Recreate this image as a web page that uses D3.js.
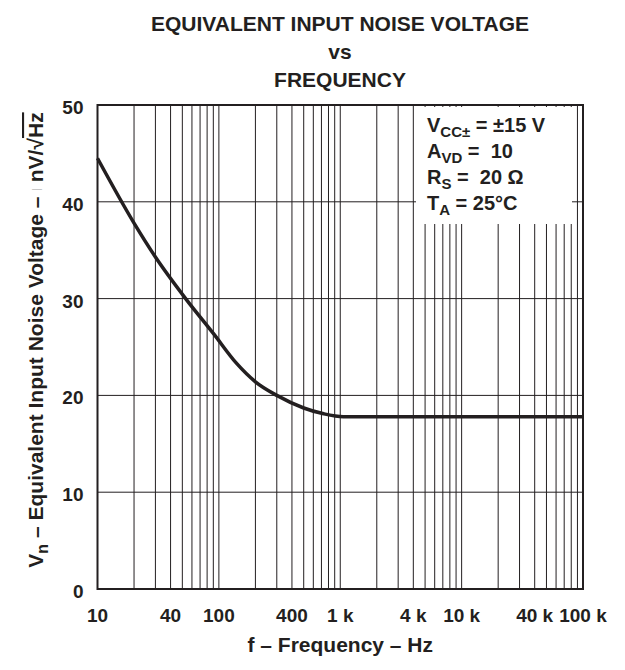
<!DOCTYPE html>
<html>
<head>
<meta charset="utf-8">
<script src="https://cdn.jsdelivr.net/npm/d3@7"></script>
<style>
  body { margin: 0; background: #fff; }
  svg text { font-family: "Liberation Sans", Arial, sans-serif; font-weight: bold; fill: #231f20; }
</style>
</head>
<body>
<svg id="chart" width="625" height="670"></svg>
<script>
// curve
const freq = [10, 20, 30, 54, 90, 140, 200, 300, 500, 730, 1060, 2000, 10000, 100000];
const noise = [44.5, 37.8, 34.3, 29.9, 26.4, 23.3, 21.4, 20.0, 18.7, 18.1, 17.8, 17.8, 17.8, 17.8];

const xTicks = [10, 40, 100, 400, 1000, 4000, 10000, 40000, 100000];
const xTickLabels = ["10", "40", "100", "400", "1 k", "4 k", "10 k", "40 k", "100 k"];
const yTicks = [0, 10, 20, 30, 40, 50];

const svg = d3.select("#chart");
const margin = { left: 97.5, right: 42, top: 105, bottom: 81 };
const width = 625 - margin.left - margin.right;
const height = 670 - margin.top - margin.bottom;

const x = d3.scaleLog().domain([10, 100000]).range([0, width]);
const y = d3.scaleLinear().domain([0, 50]).range([height, 0]);

const g = svg.append("g").attr("transform", `translate(${margin.left},${margin.top})`);

// grid: 1..9 per decade
const gridX = [];
for (let d = 10; d < 100000; d *= 10) {
  for (let m = 2; m <= 9; m++) gridX.push(d * m);
}
for (let d = 100; d < 100000; d *= 10) gridX.push(d);

g.selectAll(".vgrid")
  .data(gridX)
  .enter()
  .append("line")
  .attr("x1", d => x(d)).attr("x2", d => x(d))
  .attr("y1", 0).attr("y2", height)
  .attr("stroke", "#231f20")
  .attr("stroke-width", 1);

g.selectAll(".hgrid")
  .data(yTicks.slice(1, -1))
  .enter()
  .append("line")
  .attr("x1", 0).attr("x2", width)
  .attr("y1", d => y(d)).attr("y2", d => y(d))
  .attr("stroke", "#231f20")
  .attr("stroke-width", 1);

// legend box hides the grid behind it
g.append("rect")
  .attr("x", 416 - margin.left)
  .attr("y", 107 - margin.top)
  .attr("width", 156)
  .attr("height", 117)
  .attr("fill", "#fff");

// border
g.append("rect")
  .attr("width", width).attr("height", height)
  .attr("fill", "none")
  .attr("stroke", "#231f20")
  .attr("stroke-width", 2);

// the curve
const line = d3.line()
  .x((d, i) => x(freq[i]))
  .y(d => y(d))
  .curve(d3.curveMonotoneX);

g.append("path")
  .datum(noise)
  .attr("d", line)
  .attr("fill", "none")
  .attr("stroke", "#231f20")
  .attr("stroke-width", 3.5);

// axis tick labels
g.selectAll(".xlab")
  .data(xTicks)
  .enter()
  .append("text")
  .attr("x", d => x(d))
  .attr("y", height + 33)
  .attr("text-anchor", "middle")
  .attr("font-size", 19)
  .text((d, i) => xTickLabels[i]);

g.selectAll(".ylab")
  .data(yTicks)
  .enter()
  .append("text")
  .attr("x", -14)
  .attr("y", d => y(d) + 9)
  .attr("text-anchor", "end")
  .attr("font-size", 19)
  .text(d => d);

// titles
const title = ["EQUIVALENT INPUT NOISE VOLTAGE", "vs", "FREQUENCY"];
svg.selectAll(".title")
  .data(title)
  .enter()
  .append("text")
  .attr("x", 340)
  .attr("y", (d, i) => 31 + i * 28)
  .attr("text-anchor", "middle")
  .attr("font-size", 21)
  .text(d => d);

svg.append("text")
  .attr("x", margin.left + width / 2)
  .attr("y", 652)
  .attr("text-anchor", "middle")
  .attr("font-size", 21)
  .text("f \u2013 Frequency \u2013 Hz");

// y axis title
const yt = svg.append("text")
  .attr("transform", "translate(43,340) rotate(-90)")
  .attr("text-anchor", "middle")
  .attr("font-size", 21);
yt.append("tspan").text("V");
yt.append("tspan").attr("font-size", 16).attr("dy", 5).text("n");
yt.append("tspan").attr("dy", -5).text(" \u2013 Equivalent Input Noise Voltage \u2013 ");
yt.append("tspan").attr("fill", "#bbb").attr("font-weight", "normal").attr("font-size", 10).attr("dy", -3).text("|");
yt.append("tspan").attr("dy", 3).text(" nV/\u221A");
yt.append("tspan").style("text-decoration", "overline").text("Hz");

// legend
const legend = [
  ["V", "CC\u00B1", " = \u00B115 V"],
  ["A", "VD", " =  10"],
  ["R", "S", " =  20 \u03A9"],
  ["T", "A", " = 25\u00B0C"]
];
const lg = svg.selectAll(".leg")
  .data(legend)
  .enter()
  .append("text")
  .attr("x", 427)
  .attr("y", (d, i) => 132 + i * 26)
  .attr("font-size", 20)
  .attr("xml:space", "preserve");
lg.append("tspan").text(d => d[0]);
lg.append("tspan").attr("font-size", 15).attr("dy", 5).text(d => d[1]);
lg.append("tspan").attr("dy", -5).text(d => d[2]);
</script>
</body>
</html>
